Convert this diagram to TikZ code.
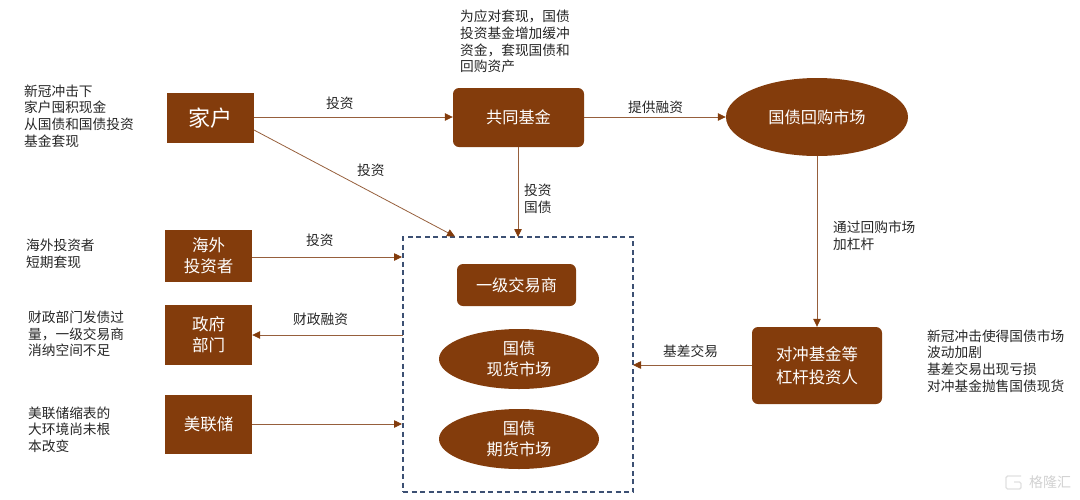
\documentclass[tikz,border=0pt]{standalone}
\usepackage{fontspec}
\setmainfont{Noto Sans CJK SC}
\usetikzlibrary{arrows.meta,shapes.geometric}
\definecolor{brn}{RGB}{131,60,12}
\definecolor{arr}{RGB}{150,95,60}
\definecolor{dash}{RGB}{60,80,115}
\tikzset{x=1pt,y=-1pt,
 boxn/.style={fill=brn,text=white,draw=none,inner sep=0pt,align=center,font=\fontsize{16.2}{20}\selectfont},
 sq/.style={boxn},
 rr/.style={boxn,rounded corners=6pt},
 ell/.style={boxn,ellipse},
 conn/.style={draw=arr,line width=0.8pt,-{Triangle[length=8pt,width=7.5pt,color=brn,fill=brn]}},
 lbl/.style={inner sep=0pt,align=left,anchor=west,text=black!85,font=\fontsize{13.7}{16.6}\selectfont}}
\begin{document}
\begin{tikzpicture}
\useasboundingbox (0,0) rectangle (1080,499);
\node[sq,minimum width=87pt,minimum height=50pt,font=\fontsize{22}{24}\selectfont] (home) at (210.5,118) {家户};
\node[rr,minimum width=131pt,minimum height=59pt] (fund) at (518.5,117.5) {共同基金};
\node[ell,minimum width=182pt,minimum height=78pt] (repo) at (817,117) {国债回购市场};
\node[sq,minimum width=87pt,minimum height=52pt,font=\fontsize{16.5}{21}\selectfont] (oversea) at (208.5,256) {海外\\投资者};
\node[sq,minimum width=87pt,minimum height=60pt,font=\fontsize{16.5}{21}\selectfont] (gov) at (208.5,335) {政府\\部门};
\node[sq,minimum width=87pt,minimum height=59pt,font=\fontsize{16.5}{21}\selectfont] (fed) at (208.5,424.5) {美联储};
\node[draw=dash,line width=1.1pt,dash pattern=on 5pt off 3.5pt,minimum width=230pt,minimum height=255pt,inner sep=0pt] (zone) at (518,364.5) {};
\node[rr,minimum width=119pt,minimum height=42pt] (dealer) at (516.5,285) {一级交易商};
\node[ell,minimum width=160pt,minimum height=60pt,font=\fontsize{16.2}{21}\selectfont] (spot) at (519,359) {国债\\现货市场};
\node[ell,minimum width=160pt,minimum height=60pt,font=\fontsize{16.2}{21}\selectfont] (fut) at (519,439) {国债\\期货市场};
\node[rr,minimum width=130pt,minimum height=77pt,font=\fontsize{16.4}{23}\selectfont] (hedge) at (817,365.5) {对冲基金等\\杠杆投资人};
\coordinate (zA) at (455,236.5);
\coordinate (zB) at (518,237);
\coordinate (zC) at (402,257);
\coordinate (zD) at (403,335);
\coordinate (zE) at (402,424);
\coordinate (zF) at (633,365);
\coordinate (homeB) at (254,130);
\draw[conn] (home.east |- 0,117) -- (fund.west |- 0,117);
\draw[conn] (homeB) -- (zA);
\draw[conn] (fund.south -| zB) -- (zB);
\draw[conn] (fund.east |- 0,117) -- (repo.west);
\draw[conn] (repo.south) -- (hedge.north);
\draw[conn] (hedge.west |- zF) -- (zF);
\draw[conn] (zD) -- (gov.east |- zD);
\draw[conn] (oversea.east |- zC) -- (zC);
\draw[conn] (fed.east |- zE) -- (zE);
\node[lbl] (t1) at (24,116) {新冠冲击下\\家户囤积现金\\从国债和国债投资\\基金套现};
\node[lbl] (t2) at (460,41.5) {为应对套现，国债\\投资基金增加缓冲\\资金，套现国债和\\回购资产};
\node[lbl] (t3) at (26,254) {海外投资者\\短期套现};
\node[lbl] (t4) at (28,334) {财政部门发债过\\量，一级交易商\\消纳空间不足};
\node[lbl] (t5) at (28,429.5) {美联储缩表的\\大环境尚未根\\本改变};
\node[lbl] (t6) at (927,361) {新冠冲击使得国债市场\\波动加剧\\基差交易出现亏损\\对冲基金抛售国债现货};
\node[lbl] (l1) at (326,103.5) {投资};
\node[lbl] (l2) at (357,170.5) {投资};
\node[lbl] (l3) at (524,199) {投资\\国债};
\node[lbl] (l4) at (628,107) {提供融资};
\node[lbl] (l5) at (833,236) {通过回购市场\\加杠杆};
\node[lbl] (l6) at (663,351.5) {基差交易};
\node[lbl] (l7) at (306,240.5) {投资};
\node[lbl] (l8) at (293,319) {财政融资};
\draw[black!12,line width=1.4pt,rounded corners=1.5pt] (1021,476) -- (1006,476) -- (1006,489) -- (1021,489) -- (1021,482) -- (1014,482);
\node[inner sep=0pt,text=black!18,font=\fontsize{14}{15}\selectfont] (wm) at (1050,482) {格隆汇};
\end{tikzpicture}
\end{document}
